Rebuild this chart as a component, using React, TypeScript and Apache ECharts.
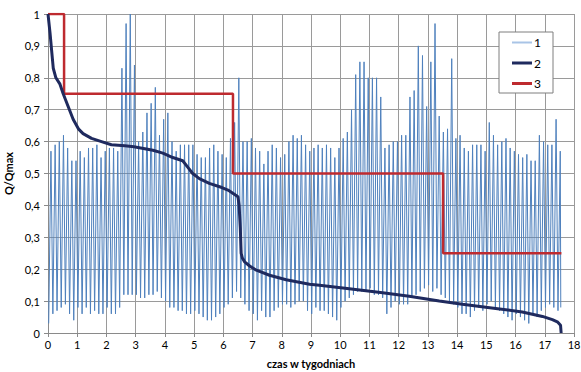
import React, { useEffect, useRef } from "react";
import * as echarts from "echarts";

// Daily maximum of the normalised flow Q/Qmax (one value per day, 123 days)
const dailyPeaks = [
  0.57, 0.59, 0.6, 0.62, 0.58, 0.54, 0.54, 0.57, 0.55, 0.58, 0.58, 0.59, 0.55, 0.57,
  0.58, 0.58, 0.57, 0.83, 0.97, 1.0, 0.84,
  0.6, 0.63, 0.69, 0.72, 0.77, 0.62, 0.67, 0.69, 0.6, 0.57, 0.59, 0.59, 0.59, 0.59,
  0.56, 0.55, 0.55, 0.58, 0.59, 0.57, 0.56,
  0.55, 0.61, 0.66, 0.8, 0.6, 0.6, 0.61, 0.58, 0.57, 0.53, 0.57, 0.59, 0.58, 0.55,
  0.56, 0.6, 0.62, 0.61, 0.62, 0.59,
  0.57, 0.58, 0.59, 0.58, 0.59, 0.58, 0.55, 0.58, 0.61, 0.63, 0.7, 0.81, 0.85, 0.85,
  0.8, 0.8, 0.8, 0.74, 0.58, 0.59, 0.6, 0.6,
  0.62, 0.62, 0.74, 0.76, 0.9, 0.87, 0.71, 0.85, 0.97, 0.68, 0.63, 0.64, 0.86, 0.61,
  0.62, 0.58, 0.57, 0.59, 0.59, 0.59, 0.57,
  0.66, 0.62, 0.59, 0.6, 0.61, 0.58, 0.57, 0.56, 0.55, 0.56, 0.54, 0.54, 0.62, 0.6,
  0.59, 0.59, 0.67, 0.57,
];

// Night-time minimum before each daily peak, plus the closing value
const dailyTroughs = [
  0.03, 0.06, 0.07, 0.08, 0.09, 0.06, 0.04, 0.08, 0.06, 0.08, 0.06, 0.07, 0.06, 0.06,
  0.08, 0.06, 0.06, 0.08, 0.12, 0.12, 0.12,
  0.12, 0.11, 0.11, 0.12, 0.12, 0.13, 0.11, 0.1, 0.08, 0.08, 0.07, 0.07, 0.06, 0.06,
  0.07, 0.06, 0.05, 0.04, 0.04, 0.05, 0.06,
  0.08, 0.09, 0.11, 0.13, 0.11, 0.09, 0.07, 0.06, 0.04, 0.07, 0.05, 0.05, 0.07, 0.08,
  0.09, 0.09, 0.08, 0.09, 0.1, 0.1,
  0.07, 0.06, 0.08, 0.07, 0.07, 0.06, 0.05, 0.04, 0.08, 0.1, 0.11, 0.12, 0.13, 0.13,
  0.13, 0.14, 0.12, 0.12, 0.11, 0.06, 0.08, 0.1,
  0.09, 0.09, 0.09, 0.11, 0.12, 0.13, 0.14, 0.15, 0.13, 0.14, 0.12, 0.11, 0.1, 0.09,
  0.08, 0.06, 0.06, 0.05, 0.07, 0.08, 0.07,
  0.09, 0.1, 0.08, 0.07, 0.06, 0.05, 0.04, 0.06, 0.05, 0.04, 0.03, 0.06, 0.05, 0.07,
  0.08, 0.09, 0.08, 0.07,
  0.08,
];

// Hour of the day at which the minimum / maximum occurs
const troughHour = 4;
const peakHour = 17;
const closingHour = 20;

// Duration curve (series 2): time in weeks and Q/Qmax
const durationWeeks = [
  0, 0.07, 0.13, 0.18, 0.27, 0.41, 0.52, 0.69, 0.86, 1.04, 1.2, 1.49, 1.83, 2.17, 2.63,
  2.94, 3.59, 3.93, 4.27, 4.61, 4.78, 4.95, 5.18, 5.52, 5.95, 6.16, 6.5, 6.54, 6.58,
  6.61, 6.65, 6.73, 6.9, 7.13, 7.58, 8.15, 8.95, 9.29, 10.31, 11.45, 12.36, 13.39,
  14.18, 15.32, 16.23, 16.92, 17.26, 17.43, 17.54, 17.56,
];
const durationValues = [
  1.0, 0.94, 0.88, 0.83, 0.8, 0.78, 0.75, 0.71, 0.67, 0.64, 0.625, 0.61, 0.6, 0.59,
  0.587, 0.584, 0.573, 0.564, 0.55, 0.54, 0.52, 0.5, 0.484, 0.469, 0.456, 0.448, 0.427,
  0.4, 0.33, 0.25, 0.235, 0.223, 0.21, 0.197, 0.181, 0.167, 0.153, 0.15, 0.139, 0.126,
  0.115, 0.1, 0.09, 0.077, 0.066, 0.052, 0.042, 0.035, 0.024, 0.0,
];

// Stepped approximation (series 3)
const stepWeeks = [0, 0.55, 0.55, 6.33, 6.33, 13.52, 13.52, 17.57];
const stepValues = [1, 1, 0.75, 0.75, 0.5, 0.5, 0.25, 0.25];

const seriesNames = ["1", "2", "3"];
const seriesColors = ["#4f81bd", "#1f2a5e", "#be2a2f"];
const legendColors = ["#a9c4e6", "#1f2a5e", "#be2a2f"];
const seriesWidths = [1, 3, 2.5];
const xAxisTitle = "czas w tygodniach";
const yAxisTitle = "Q/Qmax";

const FONT = "Lato, 'Liberation Sans', sans-serif";

export default function App() {
  const ref = useRef<HTMLDivElement>(null);

  useEffect(() => {
    if (!ref.current) return;
    const chart = echarts.init(ref.current, undefined, { renderer: "svg" });

    const daily: [number, number][] = [];
    dailyPeaks.forEach((p, d) => {
      daily.push([(d + troughHour / 24) / 7, dailyTroughs[d]]);
      daily.push([(d + peakHour / 24) / 7, p]);
    });
    daily.push([
      (dailyPeaks.length - 1 + closingHour / 24) / 7,
      dailyTroughs[dailyTroughs.length - 1],
    ]);

    const duration = durationWeeks.map((w, i) => [w, durationValues[i]]);
    const steps = stepWeeks.map((w, i) => [w, stepValues[i]]);

    const gridLine = { show: true, lineStyle: { color: "#9a9a9a", width: 1 } };

    // Legend box drawn as graphic elements: a framed panel with line keys
    const legendBox = { x: 499, y: 32, w: 54, h: 61 };
    const legendRows = [42.5, 63, 83.5];
    const legendItems: any[] = [
      {
        type: "rect",
        shape: { x: legendBox.x, y: legendBox.y, width: legendBox.w, height: legendBox.h },
        style: { fill: "#ffffff", stroke: "#7f7f7f", lineWidth: 1 },
        z: 10,
      },
    ];
    seriesNames.forEach((name, i) => {
      legendItems.push({
        type: "line",
        shape: { x1: 512, y1: legendRows[i], x2: 532, y2: legendRows[i] },
        style: { stroke: legendColors[i], lineWidth: i === 0 ? 2 : 3 },
        z: 11,
      });
      legendItems.push({
        type: "text",
        x: 534,
        y: legendRows[i],
        style: {
          text: name,
          fill: "#000",
          font: `12px ${FONT}`,
          textAlign: "left",
          textVerticalAlign: "middle",
        },
        z: 11,
      });
    });

    chart.setOption({
      animation: false,
      backgroundColor: "#ffffff",
      textStyle: { fontFamily: FONT },
      grid: {
        left: 48,
        right: 7,
        top: 14,
        bottom: 39,
        containLabel: false,
        outerBoundsMode: "none",
      },
      graphic: legendItems,
      xAxis: {
        type: "value",
        min: 0,
        max: 18,
        interval: 1,
        name: xAxisTitle,
        nameLocation: "middle",
        nameGap: 25,
        nameTextStyle: { color: "#000", fontSize: 11, fontWeight: "bold", fontFamily: FONT },
        axisLine: { show: true, lineStyle: { color: "#8a8a8a" } },
        axisTick: { show: true, length: 4, lineStyle: { color: "#8a8a8a" } },
        axisLabel: { color: "#000", fontSize: 11, margin: 6 },
        splitLine: gridLine,
      },
      yAxis: {
        type: "value",
        min: 0,
        max: 1,
        interval: 0.1,
        name: yAxisTitle,
        nameLocation: "middle",
        nameGap: 33,
        nameRotate: 90,
        nameTextStyle: { color: "#000", fontSize: 11, fontWeight: "bold", fontFamily: FONT },
        axisLine: { show: true, lineStyle: { color: "#8a8a8a" } },
        axisTick: { show: true, length: 4, lineStyle: { color: "#8a8a8a" } },
        axisLabel: {
          color: "#000",
          fontSize: 11,
          margin: 8,
          formatter: (v: number) => {
            const r = Math.round(v * 10) / 10;
            return String(r).replace(".", ",");
          },
        },
        splitLine: gridLine,
      },
      series: [
        {
          name: seriesNames[0],
          type: "line",
          data: daily,
          showSymbol: false,
          symbol: "none",
          lineStyle: { color: seriesColors[0], width: seriesWidths[0] },
          z: 1,
        },
        {
          name: seriesNames[1],
          type: "line",
          data: duration,
          showSymbol: false,
          symbol: "none",
          lineStyle: { color: seriesColors[1], width: seriesWidths[1] },
          z: 3,
        },
        {
          name: seriesNames[2],
          type: "line",
          data: steps,
          showSymbol: false,
          symbol: "none",
          lineStyle: { color: seriesColors[2], width: seriesWidths[2] },
          z: 2,
        },
      ],
    });

    return () => chart.dispose();
  }, []);

  return (
    <div
      ref={ref}
      style={{ position: "absolute", left: 0, top: 0, width: 581, height: 372 }}
    />
  );
}
